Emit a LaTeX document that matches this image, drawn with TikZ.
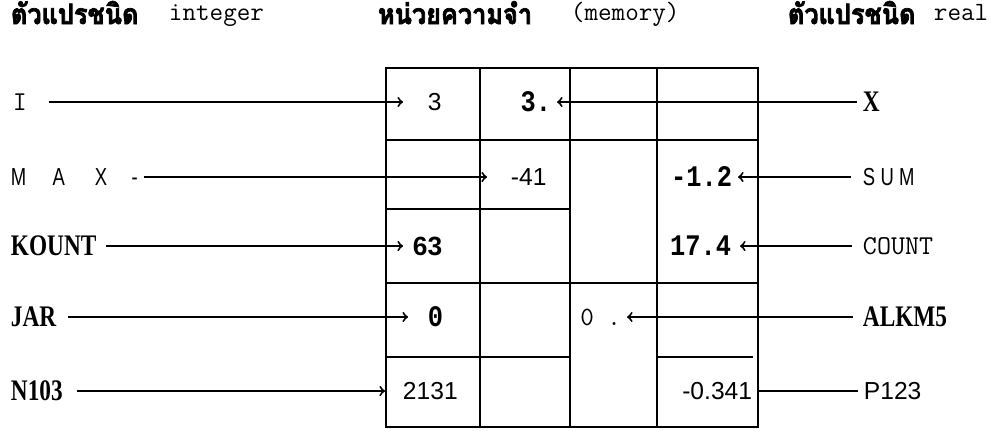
\documentclass[tikz,border=0pt]{standalone}
\usepackage{fontspec}
\setmainfont{Liberation Serif}
\setsansfont{Liberation Sans}
\newfontfamily\thaifont[Script=Thai, FakeBold=2.5, FakeStretch=0.9]{Loma}
\newfontfamily\labfont[FakeStretch=0.78]{Liberation Serif}
\newfontfamily\narrowsans[FakeStretch=0.75]{Liberation Sans}
\newfontfamily\bmono[FakeStretch=0.85]{Liberation Mono}
\begin{document}
\begin{tikzpicture}[x=0.02cm, y=-0.02cm, line width=1.1pt,
  every node/.style={inner xsep=0.1cm, inner ysep=0pt},
  thai/.style={anchor=base west, inner xsep=0pt, font=\fontsize{16}{20}\selectfont\thaifont\bfseries},
  head/.style={anchor=base west, inner xsep=0pt, font=\fontsize{15}{18}\selectfont\ttfamily},
  lab/.style={anchor=west, font=\fontsize{17}{20}\selectfont\labfont\bfseries},
  tlab/.style={anchor=west, font=\fontsize{15.5}{18}\selectfont\ttfamily},
  nlab/.style={anchor=west, font=\fontsize{14}{16}\selectfont\narrowsans},
  slab/.style={anchor=west, font=\fontsize{14}{16}\selectfont\sffamily},
  sv/.style={font=\fontsize{14}{16}\selectfont\sffamily},
  sb/.style={font=\fontsize{15}{18}\selectfont\sffamily\bfseries},
  bv/.style={font=\fontsize{17}{20}\selectfont\bmono\bfseries},
  tv/.style={font=\fontsize{15}{18}\selectfont\ttfamily},
  arr/.style={->}]
\useasboundingbox (0,0) rectangle (1003,430);

% headers
\node[thai] (h1) at (10,24) {ตัวแปรชนิด};
\node[head] (h1t) at (168,20) {integer};
\node[thai] (h2) at (377,24) {หน่วยความจำ};
\node[head] (h2t) at (570,20) {(memory)};
\node[thai] (h3) at (787,24) {ตัวแปรชนิด};
\node[head] (h3t) at (933,20) {real};

% memory cells
\begin{scope}[line width=1.3pt]
\draw (386,68) rectangle (758,427);
\draw (480,68) -- (480,427) (570,68) -- (570,427) (657,68) -- (657,427);
\draw (386,140) -- (758,140) (386,283) -- (758,283);
\draw (386,209) -- (571,209) (386,357) -- (570,357) (656,357) -- (753,357);
\end{scope}

% values
\node[sv, anchor=west] (v3) at (422,102) {3};
\node[bv, anchor=east] (v3r) at (557,102) {3.};
\node[sv, anchor=west] (v41) at (505,177) {-41};
\node[bv, anchor=east] (v12) at (738,177) {-1.2};
\node[sb, anchor=west] (v63) at (407,246) {63};
\node[bv, anchor=east] (v174) at (737,246) {17.4};
\node[bv, anchor=west] (v0) at (422,317) {0};
\node[tv, anchor=east] (v0r) at (627,317) {0 .};
\node[sv, anchor=west] (v2131) at (397,391) {2131};
\node[sv, anchor=east] (v341) at (758,391) {-0.341};

% integer names
\node[tlab] (I) at (7,102) {I};
\node[nlab] (MAX) at (5,177) {M\hspace{15pt}A\hspace{17pt}X\hspace{14pt}-};
\node[lab] (KOUNT) at (5,246) {KOUNT};
\node[lab] (JAR) at (5,317) {JAR};
\node[lab] (N103) at (5,391) {N103};

% real names
\node[lab] (X) at (857,102) {X};
\node[nlab] (SUM) at (857,177) {S\hspace{3pt}U\hspace{3pt}M};
\node[tlab] (COUNT) at (857,246) {COUNT};
\node[lab] (ALKM5) at (857,317) {ALKM5};
\node[slab] (P123) at (858,391) {P123};

\draw[arr, shorten <=0.32cm, shorten >=0.38cm] (I) -- (v3);
\draw[arr, shorten >=0.36cm] (MAX) -- (v41);
\draw[arr, shorten <=0.08cm, shorten >=0.08cm] (KOUNT) -- (v63);
\draw[arr, shorten <=0.12cm, shorten >=0.28cm] (JAR) -- (v0);
\draw[arr, shorten <=0.16cm, shorten >=0.24cm] (N103) -- (v2131);
\draw[arr] (X) -- (v3r);
\draw[arr, shorten <=0.12cm] (SUM) -- (v12);
\draw[arr, shorten <=0.1cm, shorten >=0.06cm] (COUNT) -- (v174);
\draw[arr, shorten <=0.08cm] (ALKM5) -- (v0r);
\draw (P123) -- (v341);
\end{tikzpicture}
\end{document}
